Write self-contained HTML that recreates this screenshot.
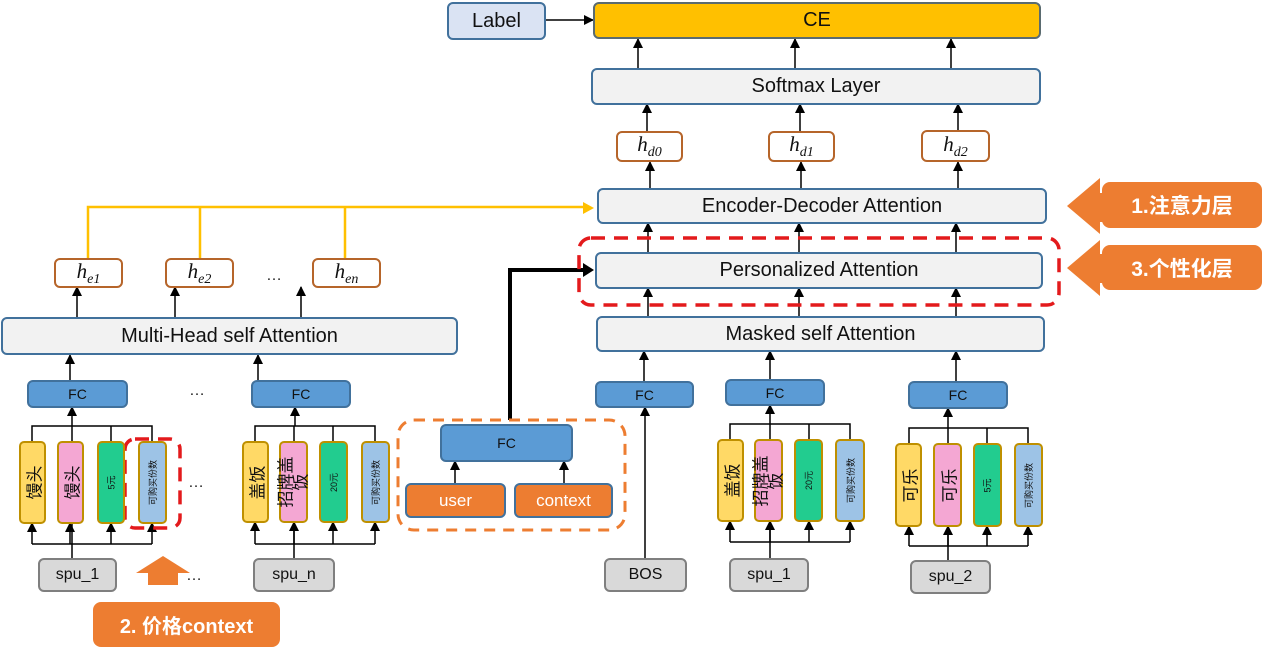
<!DOCTYPE html>
<html><head><meta charset="utf-8"><style>
body{margin:0;width:1262px;height:650px;background:#fff;position:relative;overflow:hidden;font-family:"Liberation Sans","Noto Sans CJK SC",sans-serif;}
.b{position:absolute;box-sizing:border-box;display:flex;align-items:center;justify-content:center;border-radius:6px;color:#111;}
.g{background:#f2f2f2;border:2px solid #41719c;font-size:20px;}
.fc{background:#5b9bd5;border:2px solid #41719c;font-size:14px;}
.h{background:#fff;border:2px solid #b6652a;font-family:"Liberation Serif",serif;font-style:italic;font-size:21px;border-radius:6px;}
.h sub{font-size:14px;vertical-align:-5px;}
.s{background:#d9d9d9;border:2px solid #7f7f7f;font-size:16px;}
.bar{border:2px solid #bf9000;border-radius:5px;}
.bar span{display:block;transform:rotate(-90deg);white-space:nowrap;text-align:center;}
.y{background:#ffd966}.p{background:#f4a7d3}.gr{background:#22cc8f}.bl{background:#9dc3e6}
.o{background:#ed7d31;border:2px solid #41719c;color:#fff;font-size:17px;}
.ol{background:#ed7d31;color:#fff;font-weight:bold;font-size:21px;border-radius:8px;}
</style></head><body>
<svg width="1262" height="650" style="position:absolute;left:0;top:0">
<defs><marker id="a" markerWidth="10" markerHeight="10" refX="9" refY="5" orient="auto" markerUnits="userSpaceOnUse"><path d="M0,0L10,5L0,10z" fill="#000"/></marker></defs>
<g stroke="#000" stroke-width="1.5" fill="none" marker-end="url(#a)">
<line x1="546" y1="20" x2="593" y2="20"/>
<line x1="638" y1="68" x2="638" y2="39"/><line x1="795" y1="68" x2="795" y2="39"/><line x1="951" y1="68" x2="951" y2="39"/>
<line x1="647" y1="131" x2="647" y2="104"/><line x1="800" y1="131" x2="800" y2="104"/><line x1="958" y1="131" x2="958" y2="104"/>
<line x1="650" y1="188" x2="650" y2="162"/><line x1="801" y1="188" x2="801" y2="162"/><line x1="958" y1="188" x2="958" y2="162"/>
<line x1="648" y1="252" x2="648" y2="223"/><line x1="799" y1="252" x2="799" y2="223"/><line x1="956" y1="252" x2="956" y2="223"/>
<line x1="648" y1="316" x2="648" y2="288"/><line x1="799" y1="316" x2="799" y2="288"/><line x1="956" y1="316" x2="956" y2="288"/>
<line x1="644" y1="381" x2="644" y2="351"/><line x1="770" y1="379" x2="770" y2="351"/><line x1="956" y1="381" x2="956" y2="351"/>
<line x1="77" y1="317" x2="77" y2="287"/><line x1="175" y1="317" x2="175" y2="287"/><line x1="301" y1="317" x2="301" y2="287"/>
<line x1="70" y1="380" x2="70" y2="355"/><line x1="258" y1="380" x2="258" y2="355"/>
<line x1="645" y1="558" x2="645" y2="407"/>
<line x1="455" y1="483" x2="455" y2="461"/><line x1="564" y1="483" x2="564" y2="461"/>
<line x1="72" y1="426" x2="72" y2="407"/><line x1="32" y1="544" x2="32" y2="523"/><line x1="70" y1="544" x2="70" y2="523"/><line x1="111" y1="544" x2="111" y2="523"/><line x1="152" y1="544" x2="152" y2="523"/>
<line x1="295" y1="426" x2="295" y2="407"/><line x1="255" y1="544" x2="255" y2="522"/><line x1="294" y1="544" x2="294" y2="522"/><line x1="333" y1="544" x2="333" y2="522"/><line x1="375" y1="544" x2="375" y2="522"/>
<line x1="770" y1="424" x2="770" y2="405"/><line x1="730" y1="542" x2="730" y2="521"/><line x1="770" y1="542" x2="770" y2="521"/><line x1="809" y1="542" x2="809" y2="521"/><line x1="850" y1="542" x2="850" y2="521"/>
<line x1="948" y1="428" x2="948" y2="408"/><line x1="909" y1="546" x2="909" y2="526"/><line x1="948" y1="546" x2="948" y2="526"/><line x1="987" y1="546" x2="987" y2="526"/><line x1="1028" y1="546" x2="1028" y2="526"/>
</g>
<g stroke="#000" stroke-width="1.5" fill="none">
<path d="M32,441V426H152V441M111,426V441M72,426V558"/><path d="M32,544H152"/>
<path d="M255,441V426H375V441M333,426V441M294,426V558"/><path d="M255,544H375"/>
<path d="M730,439V424H850V439M809,424V439M770,424V558"/><path d="M730,542H850"/>
<path d="M909,443V428H1028V443M987,428V443M948,428V560"/><path d="M909,546H1028"/>
</g>
<path d="M510,420V270H585" stroke="#000" stroke-width="4" fill="none"/><path d="M583,263L594,270L583,277z" fill="#000"/>
<g stroke="#ffc000" stroke-width="2.5" fill="none"><path d="M88,258V207H585"/><path d="M200,258V207M345,258V207"/></g>
<path d="M583,202L594,208L583,214z" fill="#ffc000"/>
<rect x="579" y="238" width="480" height="67" rx="12" fill="none" stroke="#e31a1c" stroke-width="3.5" stroke-dasharray="14,9"/>
<rect x="125" y="439" width="55" height="89" rx="10" fill="none" stroke="#e31a1c" stroke-width="3.5" stroke-dasharray="14,9"/>
<rect x="398" y="420" width="227" height="110" rx="16" fill="none" stroke="#ed7d31" stroke-width="3" stroke-dasharray="11,8"/>
<path d="M1067,206L1100,178V193H1106V222H1100V234z" fill="#ed7d31"/>
<path d="M1067,268L1100,240V254H1106V283H1100V296z" fill="#ed7d31"/>
<path d="M163,556L190,573H178V585H148V573H136z" fill="#ed7d31"/>
<g font-size="16" fill="#222"><text x="189" y="395">…</text><text x="188" y="487">…</text><text x="186" y="580">…</text><text x="266" y="280">…</text></g>
</svg>
<div class="b" style="left:447px;top:2px;width:99px;height:38px;background:#dae3f3;border:2px solid #41719c;font-size:20px">Label</div>
<div class="b" style="left:593px;top:2px;width:448px;height:37px;background:#ffc000;border:2px solid #5a6b70;font-size:20px">CE</div>
<div class="b g" style="left:591px;top:68px;width:450px;height:37px">Softmax Layer</div>
<div class="b h" style="left:616px;top:131px;width:67px;height:31px"><span>h<sub>d0</sub></span></div>
<div class="b h" style="left:768px;top:131px;width:67px;height:31px"><span>h<sub>d1</sub></span></div>
<div class="b h" style="left:921px;top:130px;width:69px;height:32px"><span>h<sub>d2</sub></span></div>
<div class="b g" style="left:597px;top:188px;width:450px;height:36px">Encoder-Decoder Attention</div>
<div class="b g" style="left:595px;top:252px;width:448px;height:37px">Personalized Attention</div>
<div class="b g" style="left:596px;top:316px;width:449px;height:36px">Masked self Attention</div>
<div class="b ol" style="left:1102px;top:182px;width:160px;height:46px">1.注意力层</div>
<div class="b ol" style="left:1102px;top:245px;width:160px;height:45px">3.个性化层</div>
<div class="b g" style="left:1px;top:317px;width:457px;height:38px">Multi-Head self Attention</div>
<div class="b h" style="left:54px;top:258px;width:69px;height:30px"><span>h<sub>e1</sub></span></div>
<div class="b h" style="left:165px;top:258px;width:69px;height:30px"><span>h<sub>e2</sub></span></div>
<div class="b h" style="left:312px;top:258px;width:69px;height:30px"><span>h<sub>en</sub></span></div>
<div class="b fc" style="left:27px;top:380px;width:101px;height:28px">FC</div>
<div class="b fc" style="left:251px;top:380px;width:100px;height:28px">FC</div>
<div class="b fc" style="left:595px;top:381px;width:99px;height:27px">FC</div>
<div class="b fc" style="left:725px;top:379px;width:100px;height:27px">FC</div>
<div class="b fc" style="left:908px;top:381px;width:100px;height:28px">FC</div>
<div class="b fc" style="left:440px;top:424px;width:133px;height:38px">FC</div>
<div class="b o" style="left:405px;top:483px;width:101px;height:35px">user</div>
<div class="b o" style="left:514px;top:483px;width:99px;height:35px">context</div>
<div class="b bar y" style="left:19px;top:441px;width:27px;height:83px;font-size:17px"><span>馒头</span></div>
<div class="b bar p" style="left:57px;top:441px;width:27px;height:83px;font-size:17px"><span>馒头</span></div>
<div class="b bar gr" style="left:97px;top:441px;width:28px;height:83px;font-size:9px"><span>5元</span></div>
<div class="b bar bl" style="left:138px;top:441px;width:29px;height:83px;font-size:9px"><span>可购买份数</span></div>
<div class="b bar y" style="left:242px;top:441px;width:27px;height:82px;font-size:17px"><span>盖饭</span></div>
<div class="b bar p" style="left:279px;top:441px;width:29px;height:82px;font-size:17px;line-height:15px"><span>招牌盖<br>饭</span></div>
<div class="b bar gr" style="left:319px;top:441px;width:29px;height:82px;font-size:9px"><span>20元</span></div>
<div class="b bar bl" style="left:361px;top:441px;width:29px;height:82px;font-size:9px"><span>可购买份数</span></div>
<div class="b bar y" style="left:717px;top:439px;width:27px;height:83px;font-size:17px"><span>盖饭</span></div>
<div class="b bar p" style="left:754px;top:439px;width:29px;height:83px;font-size:17px;line-height:15px"><span>招牌盖<br>饭</span></div>
<div class="b bar gr" style="left:794px;top:439px;width:29px;height:83px;font-size:9px"><span>20元</span></div>
<div class="b bar bl" style="left:835px;top:439px;width:30px;height:83px;font-size:9px"><span>可购买份数</span></div>
<div class="b bar y" style="left:895px;top:443px;width:27px;height:84px;font-size:17px"><span>可乐</span></div>
<div class="b bar p" style="left:933px;top:443px;width:29px;height:84px;font-size:17px"><span>可乐</span></div>
<div class="b bar gr" style="left:973px;top:443px;width:29px;height:84px;font-size:9px"><span>5元</span></div>
<div class="b bar bl" style="left:1014px;top:443px;width:29px;height:84px;font-size:9px"><span>可购买份数</span></div>
<div class="b s" style="left:38px;top:558px;width:79px;height:34px">spu_1</div>
<div class="b s" style="left:253px;top:558px;width:82px;height:34px">spu_n</div>
<div class="b s" style="left:604px;top:558px;width:83px;height:34px">BOS</div>
<div class="b s" style="left:729px;top:558px;width:80px;height:34px">spu_1</div>
<div class="b s" style="left:910px;top:560px;width:81px;height:34px">spu_2</div>
<div class="b ol" style="left:93px;top:602px;width:187px;height:45px;font-size:20px">2. 价格context</div>
</body></html>
